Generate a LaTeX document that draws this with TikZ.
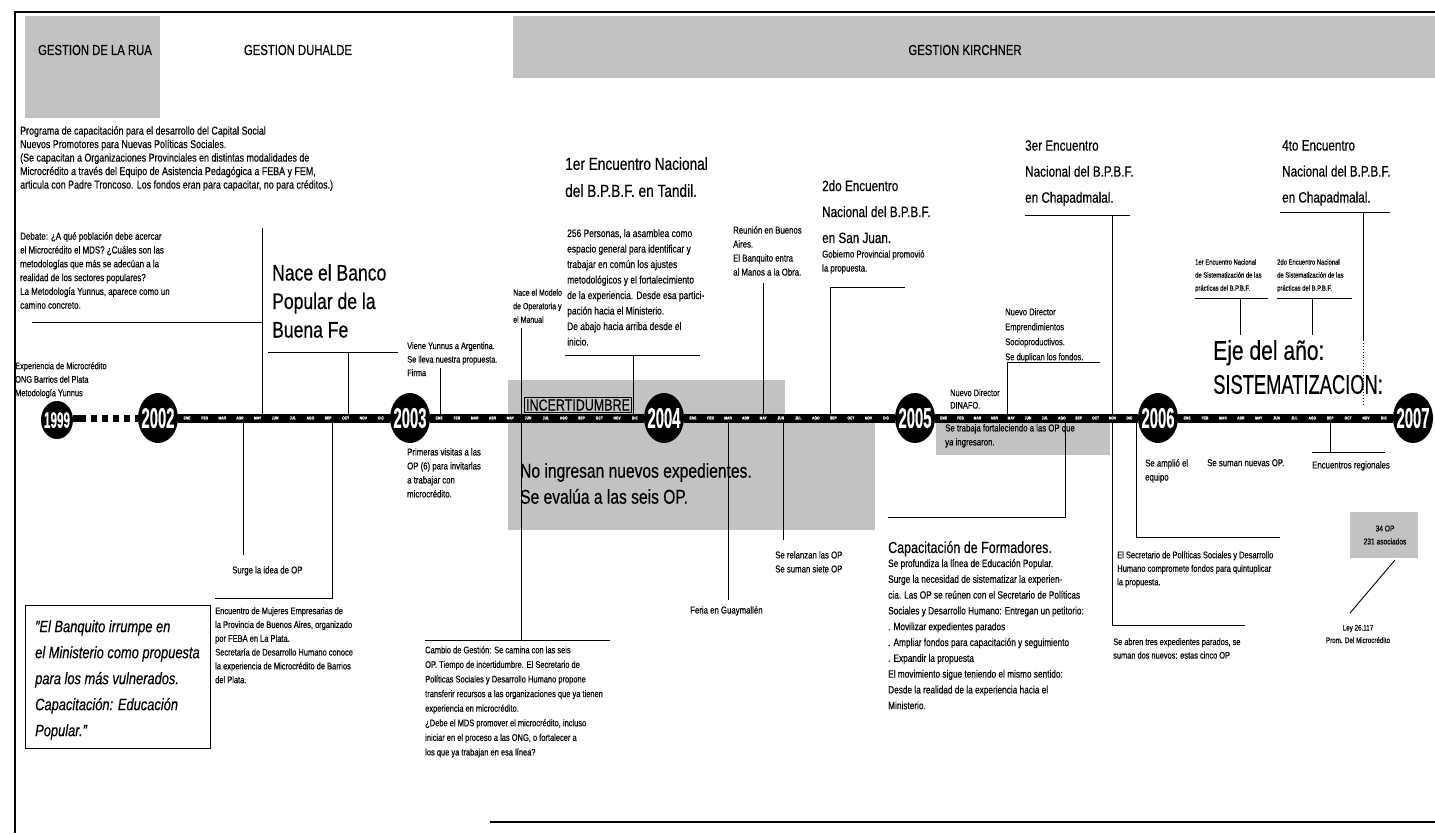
\documentclass[tikz,border=0pt]{standalone}
\usepackage{fontspec}
\setmainfont{Liberation Sans}[FakeStretch=0.78,FakeBold=0.4]
\usetikzlibrary{shapes.geometric}
\newcommand{\yr}[1]{\scalebox{1}[1.5]{#1}}
\begin{document}
\begin{tikzpicture}[x=1pt,y=-1pt,
  sm/.style={anchor=north west, inner sep=0pt, align=left, font=\fontsize{10}{14}\selectfont},
  tinytxt/.style={anchor=north west, inner sep=0pt, align=left, font=\fontsize{7.5}{13}\selectfont},
  head/.style={anchor=north west, inner sep=0pt, align=left, font=\fontsize{15}{26}\selectfont},
  gest/.style={inner sep=0pt, font=\fontsize{14.5}{14.5}\selectfont},
  ln/.style={line width=0.9pt},
  frame/.style={line width=1.3pt},
  shadebox/.style={fill=black!24},
  yearc/.style={ellipse, fill=black, inner sep=0pt, minimum width=40pt, minimum height=50pt},
  yeart/.style={text=white, inner sep=0pt, font=\fontsize{19}{19}\selectfont\bfseries},
  monthbar/.style={line width=9pt},
  month/.style={text=white, inner sep=0pt, font=\fontsize{4.3}{4.3}\selectfont\bfseries},
]
\useasboundingbox (0,0) rectangle (1435,833);

% ---------- frame ----------
\coordinate (fTL) at (15,12); \coordinate (fTR) at (1435,12); \coordinate (fBL) at (15,833);
\coordinate (fB1) at (490,822); \coordinate (fB2) at (1435,822);

% ---------- shaded areas ----------
\fill[shadebox] (25,16) rectangle (160,118);
\fill[shadebox] (513,16) rectangle (1435,78);
\fill[shadebox] (508,380) rectangle (785,418);
\fill[shadebox] (508,418) rectangle (875,530);
\fill[shadebox] (936,420) rectangle (1110,455);
\fill[shadebox] (1350,512) rectangle (1418,558);

\draw[frame] (fTR) -- (fTL) -- (fBL);
\draw[frame] (fB1) -- (fB2);

% ---------- year circles ----------
\node[yearc, minimum width=32pt, minimum height=38pt, label={[yeart, font=\fontsize{15}{15}\selectfont\bfseries]center:\yr{1999}}] (y1999) at (57,420) {};
\node[yearc, label={[yeart]center:\yr{2002}}] (y2002) at (158,418) {};
\node[yearc, label={[yeart]center:\yr{2003}}] (y2003) at (410,418) {};
\node[yearc, label={[yeart]center:\yr{2004}}] (y2004) at (664,418) {};
\node[yearc, label={[yeart]center:\yr{2005}}] (y2005) at (915,418) {};
\node[yearc, label={[yeart]center:\yr{2006}}] (y2006) at (1158,418) {};
\node[yearc, label={[yeart]center:\yr{2007}}] (y2007) at (1413,418) {};

% ---------- connectors ----------
% Debate
\coordinate (debL) at (32,322); \coordinate (debT) at (262,228); \coordinate (debB) at (262,418);
\draw[ln] (debT) -- (debB); \draw[ln] (debL) -- (debL -| debT);
% Nace el Banco
\coordinate (naL) at (268,352); \coordinate (naR) at (398,352); \coordinate (naT) at (348,352); \coordinate (naB) at (348,418);
\draw[ln] (naL) -- (naR); \draw[ln] (naT) -- (naB);
% Viene Yunnus
\coordinate (viT) at (440,368); \coordinate (viB) at (440,418);
\draw[ln] (viT) -- (viB);
% Modelo / Cambio
\coordinate (moT) at (521,328); \coordinate (moB) at (521,640); \coordinate (caL) at (425,640); \coordinate (caR) at (610,640);
\draw[ln] (moT) -- (moB); \draw[ln] (caL) -- (caR);
% Tandil
\coordinate (taL) at (565,355); \coordinate (taR) at (700,355); \coordinate (taT) at (633,355); \coordinate (taB) at (633,418);
\draw[ln] (taL) -- (taR); \draw[ln] (taT) -- (taB);
% Reunion
\coordinate (reT) at (763,283); \coordinate (reB) at (763,418);
\draw[ln] (reT) -- (reB);
% San Juan
\coordinate (sjR) at (905,287); \coordinate (sjT) at (830,287); \coordinate (sjB) at (830,418);
\draw[ln] (sjR) -- (sjT) -- (sjB);
% below 2002
\coordinate (suT) at (243,418); \coordinate (suB) at (243,555);
\draw[ln] (suT) -- (suB);
\coordinate (muT) at (332,418); \coordinate (muB) at (332,598); \coordinate (muL) at (215,598);
\draw[ln] (muT) -- (muB) -- (muL);
% below 2004
\coordinate (feT) at (728,418); \coordinate (feB) at (728,600);
\draw[ln] (feT) -- (feB);
\coordinate (rlT) at (783,418); \coordinate (rlB) at (783,540);
\draw[ln] (rlT) -- (rlB);
% Se duplican
\coordinate (duR) at (1100,362); \coordinate (duT) at (1007,362); \coordinate (duB) at (1007,418);
\draw[ln] (duR) -- (duT) -- (duB);
% Capacitacion
\coordinate (cfT) at (1065,418); \coordinate (cfB) at (1065,517); \coordinate (cfL) at (888,517);
\draw[ln] (cfT) -- (cfB) -- (cfL);
% 3er Encuentro
\coordinate (e3L) at (1025,215); \coordinate (e3R) at (1130,215); \coordinate (e3T) at (1112,215);
\coordinate (e3B) at (1112,625); \coordinate (e3E) at (1245,625);
\draw[ln] (e3L) -- (e3R); \draw[ln] (e3T) -- (e3B) -- (e3E);
% 2006 L
\coordinate (s6T) at (1136,418); \coordinate (s6B) at (1136,537); \coordinate (s6R) at (1280,537);
\draw[ln] (s6T) -- (s6B) -- (s6R);
% Encuentros regionales
\coordinate (rgT) at (1330,418); \coordinate (rgB) at (1330,452); \coordinate (rgL) at (1312,452); \coordinate (rgR) at (1385,452);
\draw[ln] (rgT) -- (rgB); \draw[ln] (rgL) -- (rgR);
% Sistematizacion 1 & 2
\coordinate (s1L) at (1195,298); \coordinate (s1R) at (1268,298); \coordinate (s1T) at (1240,298); \coordinate (s1B) at (1240,335);
\draw[ln] (s1L) -- (s1R); \draw[ln] (s1T) -- (s1B);
\coordinate (s2L) at (1277,298); \coordinate (s2R) at (1352,298); \coordinate (s2T) at (1312,298); \coordinate (s2B) at (1312,335);
\draw[ln] (s2L) -- (s2R); \draw[ln] (s2T) -- (s2B);
% 4to Encuentro
\coordinate (e4L) at (1280,212); \coordinate (e4R) at (1390,212); \coordinate (e4T) at (1363,212);
\coordinate (e4M) at (1363,340); \coordinate (e4B) at (1363,405);
\draw[ln] (e4L) -- (e4R); \draw[ln] (e4T) -- (e4M); \draw[ln, dotted] (e4M) -- (e4B);

% ---------- timeline bars ----------
\coordinate (dsh1) at (86,418); \coordinate (dsh2) at (91,418);
\draw[line width=7pt] (y1999.east |- dsh1) -- (dsh1);
\draw[line width=7pt, dash pattern=on 6pt off 5pt] (dsh2) -- (y2002.west);
\foreach \a/\b in {y2002/y2003,y2003/y2004,y2004/y2005,y2005/y2006,y2006/y2007}{
  \draw[monthbar] (\a.east) -- (\b.west)
    \foreach \m [count=\i, evaluate=\i as \p using (\i-0.5)/12] in {ENE,FEB,MAR,ABR,MAY,JUN,JUL,AGO,SEP,OCT,NOV,DIC} {node[month, pos=\p] {\m}};
}

% ---------- header texts ----------
\node[gest] (rua) at (95,50) {GESTION DE LA RUA};
\node[gest] (duh) at (298,50) {GESTION DUHALDE};
\node[gest] (kir) at (965,50) {GESTION KIRCHNER};

% ---------- left texts ----------
\node[sm, font=\fontsize{11.4}{13.5}\selectfont] (p1) at (20,126) {Programa de capacitación para el desarrollo del Capital Social\\Nuevos Promotores para Nuevas Políticas Sociales.\\(Se capacitan a Organizaciones Provinciales en distintas modalidades de\\Microcrédito a través del Equipo de Asistencia Pedagógica a FEBA y FEM,\\articula con Padre Troncoso. Los fondos eran para capacitar, no para créditos.)};
\node[sm, font=\fontsize{10.2}{13.8}\selectfont] (deb) at (20,232) {Debate: ¿A qué población debe acercar\\el Microcrédito el MDS? ¿Cuáles son las\\metodologías que más se adecúan a la\\realidad de los sectores populares?\\La Metodología Yunnus, aparece como un\\camino concreto.};
\node[sm, font=\fontsize{9.5}{13.5}\selectfont] (exp) at (15,362) {Experiencia de Microcrédito\\ONG Barrios del Plata\\Metodología Yunnus};
\node[anchor=north west, inner sep=0pt, align=left, font=\fontsize{22.5}{28.5}\selectfont] (nace) at (272,264) {Nace el Banco\\Popular de la\\Buena Fe};
\node[sm, font=\fontsize{9.5}{13.5}\selectfont] (viene) at (407,342) {Viene Yunnus a Argentina.\\Se lleva nuestra propuesta.\\Firma};
\node[sm] (prim) at (407,448) {Primeras visitas a las\\OP (6) para invitarlas\\a trabajar con\\microcrédito.};
\node[sm] (surge) at (232,566) {Surge la idea de OP};
\node[sm, font=\fontsize{9.6}{13.8}\selectfont] (muj) at (215,607) {Encuentro de Mujeres Empresarias de\\la Provincia de Buenos Aires, organizado\\por FEBA en La Plata.\\Secretaría de Desarrollo Humano conoce\\la experiencia de Microcrédito de Barrios\\del Plata.};
\node[draw, line width=1.2pt, anchor=north west, minimum width=185pt, minimum height=143pt, inner sep=0pt] (qbox) at (25,605) {};
\node[anchor=north west, inner sep=0pt, align=left, font=\fontsize{16.5}{26}\selectfont\itshape] (quote) at (35,620) {"El Banquito irrumpe en\\el Ministerio como propuesta\\para los más vulnerados.\\Capacitación: Educación\\Popular."};

% ---------- 2003-2004 ----------
\node[sm, font=\fontsize{9}{13.5}\selectfont] (modelo) at (513,289) {Nace el Modelo\\de Operatoria y\\el Manual};
\node[sm, font=\fontsize{9.6}{14.6}\selectfont] (cambio) at (425,646) {Cambio de Gestión: Se camina con las seis\\OP. Tiempo de incertidumbre. El Secretario de\\Políticas Sociales y Desarrollo Humano propone\\transferir recursos a las organizaciones que ya tienen\\experiencia en microcrédito.\\¿Debe el MDS promover el microcrédito, incluso\\iniciar en el proceso a las ONG, o fortalecer a\\los que ya trabajan en esa línea?};
\node[head, font=\fontsize{17.5}{27}\selectfont] (tandil) at (565,157) {1er Encuentro Nacional\\del B.P.B.F. en Tandil.};
\node[sm, font=\fontsize{10.8}{15.5}\selectfont] (pers) at (567,229) {256 Personas, la asamblea como\\espacio general para identificar y\\trabajar en común los ajustes\\metodológicos y el fortalecimiento\\de la experiencia. Desde esa partici-\\pación hacia el Ministerio.\\De abajo hacia arriba desde el\\inicio.};
\node[draw, line width=0.8pt, fill=black!24, inner sep=2pt, font=\fontsize{16}{16}\selectfont] (inc) at (578,405) {INCERTIDUMBRE};
\node[anchor=north west, inner sep=0pt, align=left, font=\fontsize{20}{26}\selectfont] (noing) at (520,463) {No ingresan nuevos expedientes.\\Se evalúa a las seis OP.};

% ---------- 2004-2005 ----------
\node[sm] (reun) at (733,226) {Reunión en Buenos\\Aires.\\El Banquito entra\\al Manos a la Obra.};
\node[head] (sanjuan) at (822,180) {2do Encuentro\\Nacional del B.P.B.F.\\en San Juan.};
\node[sm] (gob) at (822,250) {Gobierno Provincial promovió\\la propuesta.};
\node[sm] (relanz) at (775,551) {Se relanzan las OP\\Se suman siete OP};
\node[sm] (feria) at (690,606) {Feria en Guaymallén};

% ---------- 2005-2006 ----------
\node[sm, font=\fontsize{9.5}{12.5}\selectfont] (dinafo) at (950,389) {Nuevo Director\\DINAFO.};
\node[sm, font=\fontsize{9.7}{15}\selectfont] (dupl) at (1005,308) {Nuevo Director\\Emprendimientos\\Socioproductivos.\\Se duplican los fondos.};
\node[sm] (trab) at (945,424) {Se trabaja fortaleciendo a las OP que\\ya ingresaron.};
\node[anchor=north west, inner sep=0pt, font=\fontsize{16}{16}\selectfont] (capf) at (888,541) {Capacitación de Formadores.};
\node[sm, font=\fontsize{10.6}{15.8}\selectfont] (form) at (888,559) {Se profundiza la línea de Educación Popular.\\Surge la necesidad de sistematizar la experien-\\cia. Las OP se reúnen con el Secretario de Políticas\\Sociales y Desarrollo Humano: Entregan un petitorio:\\. Movilizar expedientes parados\\. Ampliar fondos para capacitación y seguimiento\\. Expandir la propuesta\\El movimiento sigue teniendo el mismo sentido:\\Desde la realidad de la experiencia hacia el\\Ministerio.};
\node[head] (tercer) at (1025,140) {3er Encuentro\\Nacional del B.P.B.F.\\en Chapadmalal.};
\node[sm, font=\fontsize{9.5}{13.5}\selectfont] (abren) at (1113,638) {Se abren tres expedientes parados, se\\suman dos nuevos: estas cinco OP};
\node[sm, font=\fontsize{9.6}{13.5}\selectfont] (secr) at (1117,551) {El Secretario de Políticas Sociales y Desarrollo\\Humano compromete fondos para quintuplicar\\la propuesta.};

% ---------- 2006-2007 ----------
\node[sm] (ampl) at (1145,459) {Se amplió el\\equipo};
\node[sm] (nuevas) at (1207,459) {Se suman nuevas OP.};
\node[sm] (regio) at (1312,461) {Encuentros regionales};
\node[anchor=north west, inner sep=0pt, align=left, font=\fontsize{27}{34}\selectfont] (eje) at (1213,340) {Eje del año:\\\scalebox{0.87}[1]{SISTEMATIZACION:}};
\node[tinytxt] (sis1) at (1195,259) {1er Encuentro Nacional\\de Sistematización de las\\prácticas del B.P.B.F.};
\node[tinytxt] (sis2) at (1277,259) {2do Encuentro Nacional\\de Sistematización de las\\prácticas del B.P.B.F.};
\node[head] (cuarto) at (1282,140) {4to Encuentro\\Nacional del B.P.B.F.\\en Chapadmalal.};
\node[inner sep=0pt, align=center, font=\fontsize{8.5}{13}\selectfont] (op34) at (1385,535) {34 OP\\231 asociados};
\node[inner sep=0pt, align=center, font=\fontsize{8}{12.5}\selectfont] (ley) at (1358,634) {Ley 26.117\\Prom. Del Microcrédito};
\coordinate (lyT) at (1395,560); \coordinate (lyB) at (1350,613);
\draw[ln] (lyT) -- (lyB);
\end{tikzpicture}
\end{document}
